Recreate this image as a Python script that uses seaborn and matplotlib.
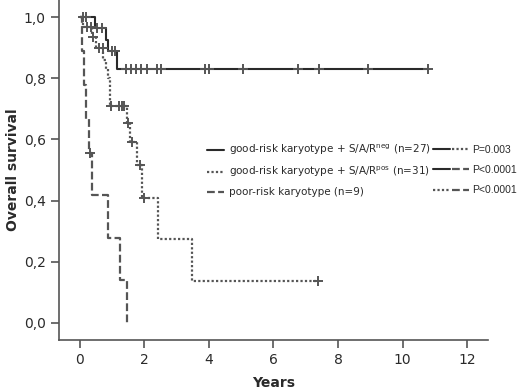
import numpy as np
import pandas as pd
import matplotlib
matplotlib.use("Agg")
import matplotlib.pyplot as plt
from matplotlib.lines import Line2D
from matplotlib.legend_handler import HandlerTuple
import seaborn as sns

# Kaplan-Meier steps (years, survival after each step)
neg_time = [0, 0.47, 0.81, 0.87, 1.14, 10.8]
neg_surv = [1.0, 0.963, 0.926, 0.889, 0.83, 0.83]
neg_cens = [0.08, 0.2, 0.53, 0.68, 1.0, 1.08, 1.43, 1.58, 1.74, 1.89, 2.08,
            2.39, 2.51, 3.88, 4.0, 5.05, 6.76, 7.41, 8.93, 10.79]

pos_time = [0, 0.1, 0.37, 0.5, 0.72, 0.8, 0.88, 0.93, 1.46, 1.55, 1.77, 1.92,
            2.42, 3.47, 7.38]
pos_surv = [1.0, 0.968, 0.935, 0.9, 0.86, 0.83, 0.8, 0.71, 0.653, 0.59, 0.516,
            0.41, 0.274, 0.137, 0.137]
pos_cens = [0.22, 0.34, 0.4, 0.59, 0.71, 0.97, 1.21, 1.3, 1.36, 1.49, 1.62,
            1.86, 1.97, 7.38]

poor_time = [0, 0.05, 0.12, 0.2, 0.28, 0.37, 0.87, 1.24, 1.46]
poor_surv = [1.0, 0.889, 0.778, 0.667, 0.556, 0.417, 0.278, 0.139, 0.0]
poor_cens = [0.31]

group_labels = ["good-risk karyotype + S/A/R$^{\\mathrm{neg}}$ (n=27)",
                "good-risk karyotype + S/A/R$^{\\mathrm{pos}}$ (n=31)",
                "poor-risk karyotype (n=9)"]
p_labels = ["P=0.003", "P<0.0001", "P<0.0001"]

x_ticks = [0, 2, 4, 6, 8, 10, 12]
y_ticks = [0.0, 0.2, 0.4, 0.6, 0.8, 1.0]
y_tick_labels = ["0,0", "0,2", "0,4", "0,6", "0,8", "1,0"]

#########################################################################

sns.set_style("ticks")
plt.rcParams['font.family'] = ['DejaVu Sans']
plt.rcParams['mathtext.fontset'] = 'dejavusans'

dark = "#2a2a2a"
grey = "#555555"
styles = [
    dict(color=dark, linestyle="-", linewidth=1.5),
    dict(color=grey, linestyle=(0, (1, 1)), linewidth=1.6),
    dict(color=grey, linestyle=(0, (3.5, 1.5)), linewidth=1.6),
]

fig = plt.figure(figsize=(5.2, 3.89), dpi=100)
ax = fig.add_axes([59 / 520, 1 - 340 / 389, (488 - 59) / 520, 340 / 389])

curves = [(neg_time, neg_surv, neg_cens),
          (pos_time, pos_surv, pos_cens),
          (poor_time, poor_surv, poor_cens)]

for (t, s, c), st in zip(curves, styles):
    df = pd.DataFrame({"time": t, "surv": s})
    sns.lineplot(data=df, x="time", y="surv", estimator=None, sort=False,
                 drawstyle="steps-post", ax=ax, **st)
    # censored cases sit on the current step
    idx = np.searchsorted(np.array(t), np.array(c), side="right") - 1
    cdf = pd.DataFrame({"time": c, "surv": np.array(s)[idx]})
    sns.scatterplot(data=cdf, x="time", y="surv", marker="+", s=45,
                    linewidth=1.4, color=grey, ax=ax, zorder=4)

ax.set_xlim(-0.65, 12.65)
ax.set_ylim(-0.056, 1.056)
ax.set_xticks(x_ticks)
ax.set_yticks(y_ticks)
ax.set_yticklabels(y_tick_labels)
ax.tick_params(axis="both", labelsize=10, colors=grey, labelcolor=dark,
               length=6, width=1.2)
for side in ["top", "right"]:
    ax.spines[side].set_visible(False)
for side in ["left", "bottom"]:
    ax.spines[side].set_color(grey)
    ax.spines[side].set_linewidth(1.2)

ax.set_xlabel("Years", fontsize=10, fontweight="bold", color=dark, labelpad=6)
ax.set_ylabel("Overall survival", fontsize=10, fontweight="bold", color=dark,
              labelpad=3)

# group legend
handles = [Line2D([], [], **st) for st in styles]
fig.legend(handles, group_labels, loc="center left",
           bbox_to_anchor=(207 / 520, 1 - 170 / 389),
           frameon=False, fontsize=7.5, handlelength=1.6,
           handletextpad=0.55, labelspacing=0.75, borderpad=0,
           borderaxespad=0, labelcolor=dark)

# pairwise log-rank comparisons
pairs = [(0, 1), (0, 2), (1, 2)]
pair_handles = [(Line2D([], [], **styles[a]), Line2D([], [], **styles[b]))
                for a, b in pairs]
fig.legend(pair_handles, p_labels, loc="center left",
           bbox_to_anchor=(433 / 520, 1 - 170 / 389),
           handler_map={tuple: HandlerTuple(ndivide=None, pad=0.15)},
           frameon=False, handlelength=3.45,
           prop={"family": "Liberation Sans", "size": 7.5},
           handletextpad=0.3, labelspacing=1.0, borderpad=0,
           borderaxespad=0, labelcolor=dark)

fig.savefig("out.png", dpi=100)
